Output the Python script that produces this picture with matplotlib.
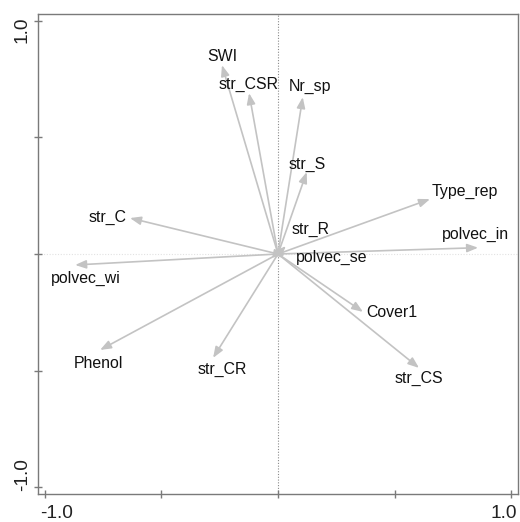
import matplotlib
matplotlib.use("Agg")
import matplotlib.pyplot as plt
from matplotlib import transforms

# ---- data (arrow tips in ordination space) ----
var_names = ["SWI", "str_CSR", "Nr_sp", "str_S", "Type_rep", "polvec_in", "str_R",
             "polvec_se", "str_C", "polvec_wi", "Phenol", "str_CR", "Cover1", "str_CS"]
axis1 = [-0.240, -0.124, 0.106, 0.123, 0.651, 0.857, 0.034,
         0.030, -0.634, -0.869, -0.762, -0.278, 0.364, 0.604]
axis2 = [0.809, 0.689, 0.672, 0.351, 0.235, 0.027, 0.034,
         -0.006, 0.154, -0.047, -0.411, -0.445, -0.248, -0.488]

# label anchor points (centre of text, data units)
label_x = [-0.240, -0.128, 0.137, 0.124, 0.801, 0.844, 0.141,
           0.229, -0.728, -0.822, -0.767, -0.240, 0.488, 0.604]
label_y = [0.852, 0.732, 0.724, 0.390, 0.274, 0.090, 0.111,
           -0.012, 0.161, -0.098, -0.463, -0.488, -0.248, -0.527]

tick_vals = [-1.0, -0.5, 0.0, 0.5, 1.0]
tick_text = ["-1.0", "", "", "", "1.0"]
# small pixel nudges of the tick labels (as in the reference)
xlab_nudge = [12, 0, 0, 0, -7.5]
ylab_nudge = [12.5, 0, 0, 0, -9.5]

plt.rcParams['font.family'] = ['Liberation Sans', 'DejaVu Sans']

fig = plt.figure(figsize=(5.2, 5.22), dpi=100)
ax = fig.add_axes([38/520, 28/522, 480/520, 480/522])
lim = 1.028
ax.set_xlim(-lim, lim)
ax.set_ylim(-lim, lim)

spine_col = '#7a7a7a'
for s in ax.spines.values():
    s.set_color(spine_col)
    s.set_linewidth(1.0)

ax.axvline(0, color='#8a8a8a', lw=0.8, ls=(0, (1, 1.5)), zorder=1)
ax.axhline(0, color='#e2e2e2', lw=0.8, ls=(0, (1, 1.5)), zorder=1)

arrow_col = '#c3c3c3'
for xv, yv in zip(axis1, axis2):
    ax.annotate('', xy=(xv, yv), xytext=(0, 0),
                arrowprops=dict(arrowstyle='-|>,head_length=0.65,head_width=0.25',
                                color=arrow_col, lw=1.2, mutation_scale=10,
                                shrinkA=0, shrinkB=0), zorder=2)

tr = transforms.offset_copy(ax.transData, fig=fig, x=0, y=-5.5, units='dots')
for name, lx, ly in zip(var_names, label_x, label_y):
    ax.text(lx, ly, name, transform=tr, ha='center', va='baseline',
            fontsize=11.4, color='#111111', zorder=3)

ax.set_xticks(tick_vals)
ax.set_yticks(tick_vals)
ax.set_xticklabels([])
ax.set_yticklabels([])
ax.tick_params(axis='both', direction='inout', length=6, width=1.0, color=spine_col)

tick_fs = 13.8
bx = transforms.blended_transform_factory(ax.transData, ax.transAxes)
by = transforms.blended_transform_factory(ax.transAxes, ax.transData)
for v, t, dx in zip(tick_vals, tick_text, xlab_nudge):
    if t:
        trx = bx + transforms.ScaledTranslation(dx / 100, -23.5 / 100, fig.dpi_scale_trans)
        ax.text(v, 0, t, transform=trx, ha='center', va='baseline',
                fontsize=tick_fs, color='#222222', clip_on=False)
for v, t, dy in zip(tick_vals, tick_text, ylab_nudge):
    if t:
        tryy = by + transforms.ScaledTranslation(-11 / 100, dy / 100, fig.dpi_scale_trans)
        ax.text(0, v, t, transform=tryy, ha='center', va='baseline', rotation=90,
                rotation_mode='anchor', fontsize=tick_fs, color='#222222', clip_on=False)

fig.savefig('out.png', dpi=100)
